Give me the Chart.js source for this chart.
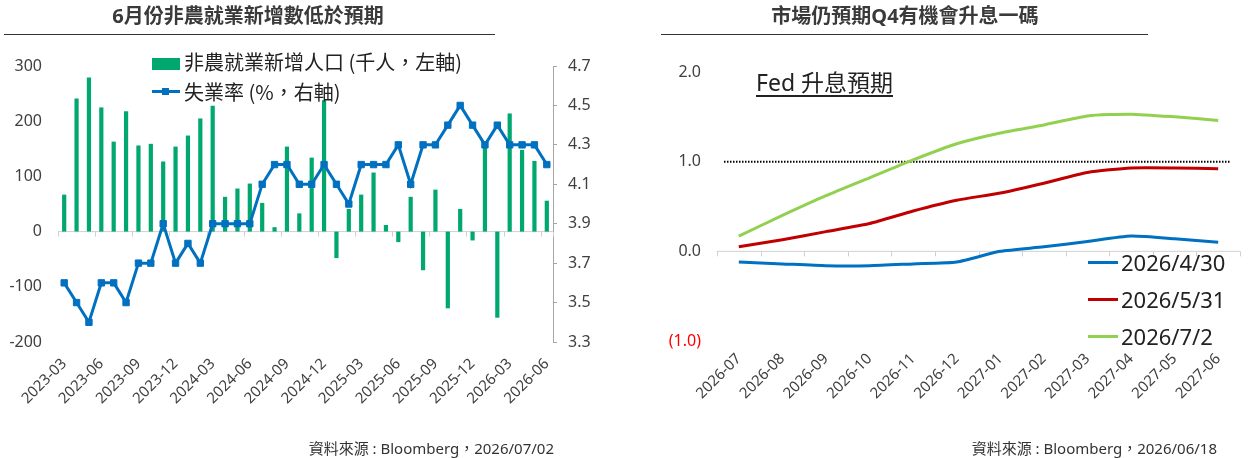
<!DOCTYPE html>
<html lang="zh-Hant-TW">
<head>
<meta charset="utf-8">
<script src="https://cdn.jsdelivr.net/npm/chart.js@4.4.1/dist/chart.umd.min.js"></script>
<style>
  body { margin: 0; background: #fff; }
  #page {
    position: relative; width: 1260px; height: 458px; overflow: hidden;
    font-family: 'Noto Sans', 'Noto Sans CJK TC', sans-serif; color: #262626;
  }
  .box { position: absolute; }
  .title { position: absolute; top: 3px; font-size: 20px; line-height: 26px; text-align: center; color: #3a3a3a; font-weight: bold; }
  .rule { position: absolute; top: 34px; height: 0; border-top: 1.5px solid #333; }
  .lgtext { position: absolute; white-space: nowrap; }
  .cjk { font-family: 'Noto Sans CJK TC', 'Noto Sans', sans-serif; }
  .note { position: absolute; top: 438px; font-size: 15px; line-height: 20px; color: #333; text-align: right; white-space: nowrap; }
  .wrap { position: absolute; top: 0; width: 630px; height: 458px; }
</style>
</head>
<body>
<div id="page">
  <div class="wrap" style="left:0"><canvas id="nfpChart"></canvas></div>
  <div class="wrap" style="left:630px"><canvas id="fedChart"></canvas></div>

  <div class="title" style="left:0;width:496px">6月份非農就業新增數低於預期</div>
  <div class="rule" style="left:4px;width:491px"></div>
  <div class="title" style="left:661px;width:488px">市場仍預期Q4有機會升息一碼</div>
  <div class="rule" style="left:661px;width:487px"></div>

  <!-- left legend -->
  <div class="box" style="left:152px;top:58px;width:28px;height:12px;background:#00A870"></div>
  <div id="lgBar" class="lgtext cjk" style="left:184px;top:50px;font-size:20px;line-height:24px;color:#222"></div>
  <div class="box" style="left:152px;top:90px;width:28px;height:3px;background:#0070C0"></div>
  <div class="box" style="left:162px;top:88px;width:7px;height:7px;background:#0070C0"></div>
  <div id="lgRate" class="lgtext cjk" style="left:184px;top:80px;font-size:20px;line-height:24px;color:#222"></div>

  <!-- right chart label + legend -->
  <div class="lgtext" style="left:756px;top:70px;font-size:23px;line-height:25px;border-bottom:2px solid #222;color:#222">Fed 升息預期</div>
  <div class="box" style="left:1088px;top:261px;width:30px;height:3px;background:#0070C0"></div>
  <div id="lg1" class="lgtext" style="left:1121px;top:248px;font-size:22px;line-height:28px;color:#222"></div>
  <div class="box" style="left:1088px;top:298px;width:30px;height:3px;background:#C00000"></div>
  <div id="lg2" class="lgtext" style="left:1121px;top:285px;font-size:22px;line-height:28px;color:#222"></div>
  <div class="box" style="left:1088px;top:335px;width:30px;height:3px;background:#92D050"></div>
  <div id="lg3" class="lgtext" style="left:1121px;top:322px;font-size:22px;line-height:28px;color:#222"></div>

  <div class="note" style="right:706px">資料來源 : Bloomberg，2026/07/02</div>
  <div class="note" style="right:43px">資料來源 : Bloomberg，2026/06/18</div>
</div>

<script>
// 非農就業 (左圖)
const payrollMonths = [
  "2023-03", "2023-04", "2023-05", "2023-06", "2023-07", "2023-08", "2023-09", "2023-10",
  "2023-11", "2023-12", "2024-01", "2024-02", "2024-03", "2024-04", "2024-05", "2024-06",
  "2024-07", "2024-08", "2024-09", "2024-10", "2024-11", "2024-12", "2025-01", "2025-02",
  "2025-03", "2025-04", "2025-05", "2025-06", "2025-07", "2025-08", "2025-09", "2025-10",
  "2025-11", "2025-12", "2026-01", "2026-02", "2026-03", "2026-04", "2026-05", "2026-06",
];
const payrolls = [
  67, 241, 279, 225, 163, 218, 156, 159, 127, 154,
  174, 205, 228, 63, 78, 87, 52, 8, 154, 33,
  134, 238, -48, 41, 67, 107, 12, -19, 63, -70,
  76, -139, 41, -16, 160, -156, 214, 148, 128, 56,
];
const unemployment = [
  3.6, 3.5, 3.4, 3.6, 3.6, 3.5, 3.7, 3.7, 3.9, 3.7,
  3.8, 3.7, 3.9, 3.9, 3.9, 3.9, 4.1, 4.2, 4.2, 4.1,
  4.1, 4.2, 4.1, 4.0, 4.2, 4.2, 4.2, 4.3, 4.1, 4.3,
  4.3, 4.4, 4.5, 4.4, 4.3, 4.4, 4.3, 4.3, 4.3, 4.2,
];
const payrollLabel = "非農就業新增人口 (千人，左軸)";
const rateLabel = "失業率 (%，右軸)";

// Fed 升息預期 (右圖)
const fedMonths = [
  "2026-07", "2026-08", "2026-09", "2026-10", "2026-11", "2026-12",
  "2027-01", "2027-02", "2027-03", "2027-04", "2027-05", "2027-06",
];
const hikesApr30 = [-0.12, -0.14, -0.16, -0.16, -0.14, -0.12, 0.0, 0.05, 0.11, 0.17, 0.14, 0.10];
const hikesMay31 = [0.05, 0.13, 0.22, 0.31, 0.45, 0.57, 0.65, 0.76, 0.88, 0.93, 0.93, 0.92];
const hikesJul02 = [0.17, 0.40, 0.62, 0.82, 1.02, 1.20, 1.32, 1.41, 1.51, 1.53, 1.50, 1.46];
const fedLabels = ["2026/4/30", "2026/5/31", "2026/7/2"];

Chart.defaults.font.family = "'Noto Sans', 'Noto Sans CJK TC', sans-serif";
Chart.defaults.color = "#404040";
Chart.defaults.animation = false;

// axis line at value 0 with small ticks on category boundaries
const zeroAxis = {
  id: "zeroAxis",
  beforeDatasetsDraw(chart, args, opts) {
    const x = chart.scales.x;
    const y = chart.scales[opts.scaleID];
    const y0 = y.getPixelForValue(0);
    const n = chart.data.labels.length;
    const ctx = chart.ctx;
    ctx.save();
    ctx.strokeStyle = opts.color;
    ctx.lineWidth = 1;
    ctx.beginPath();
    ctx.moveTo(chart.chartArea.left, y0);
    ctx.lineTo(chart.chartArea.right, y0);
    for (let i = 0; i <= n; i += opts.every) {
      const px = Math.round(x.getPixelForValue(i - 0.5)) + 0.5;
      ctx.moveTo(px, y0);
      ctx.lineTo(px, y0 + 5);
    }
    if (n % opts.every !== 0) {
      const px = Math.round(x.getPixelForValue(n - 0.5)) + 0.5;
      ctx.moveTo(px, y0);
      ctx.lineTo(px, y0 + 5);
    }
    ctx.stroke();
    ctx.restore();
  },
};

// dotted reference line
const refLine = {
  id: "refLine",
  beforeDatasetsDraw(chart, args, opts) {
    const y = chart.scales.y.getPixelForValue(opts.value);
    const ctx = chart.ctx;
    ctx.save();
    ctx.strokeStyle = "#000";
    ctx.lineWidth = 2;
    ctx.setLineDash([1.5, 1.5]);
    ctx.beginPath();
    ctx.moveTo(chart.chartArea.left + 7, y);
    ctx.lineTo(chart.chartArea.right - 10, y);
    ctx.stroke();
    ctx.restore();
  },
};

document.addEventListener("DOMContentLoaded", () => {
  document.getElementById("lgBar").textContent = payrollLabel;
  document.getElementById("lgRate").textContent = rateLabel;
  document.getElementById("lg1").textContent = fedLabels[0];
  document.getElementById("lg2").textContent = fedLabels[1];
  document.getElementById("lg3").textContent = fedLabels[2];
  initPayrollChart();
  initFedChart();
});

function initPayrollChart() {
  const ctx = document.getElementById("nfpChart").getContext("2d");
  new Chart(ctx, {
    type: "bar",
    data: {
      labels: payrollMonths,
      datasets: [
        {
          type: "line",
          label: rateLabel,
          data: unemployment,
          yAxisID: "y1",
          borderColor: "#0070C0",
          backgroundColor: "#0070C0",
          borderWidth: 3,
          pointStyle: "rect",
          pointRadius: 4.5,
          pointBorderWidth: 1,
          tension: 0,
          order: 0,
        },
        {
          label: payrollLabel,
          data: payrolls,
          yAxisID: "y",
          backgroundColor: "#00A870",
          barPercentage: 0.34,
          categoryPercentage: 1,
          order: 1,
        },
      ],
    },
    options: {
      responsive: true,
      maintainAspectRatio: false,
      layout: { padding: { top: 66, left: 0, right: 0, bottom: 0 } },
      plugins: {
        legend: { display: false },
        tooltip: { enabled: false },
        zeroAxis: { scaleID: "y", every: 3, color: "#D0D0D0" },
      },
      scales: {
        x: {
          offset: true,
          grid: { display: false, drawTicks: false },
          border: { display: false },
          ticks: {
            autoSkip: false,
            minRotation: 45,
            maxRotation: 45,
            padding: 13,
            font: { size: 15 },
            callback: (v, i) => (i % 3 === 0 ? payrollMonths[i] : ""),
          },
          afterFit: (axis) => { axis.height = 116; },
        },
        y: {
          position: "left",
          min: -200,
          max: 300,
          ticks: { stepSize: 100, padding: 16, font: { size: 16 } },
          grid: { display: false, drawTicks: false },
          border: { display: false },
          afterFit: (axis) => { axis.width = 58; },
        },
        y1: {
          position: "right",
          min: 3.3,
          max: 4.7,
          ticks: { stepSize: 0.2, padding: 11, font: { size: 16 }, callback: (v) => v.toFixed(1) },
          grid: { drawOnChartArea: false, tickLength: 4, color: "#A6A6A6" },
          border: { color: "#A6A6A6" },
          afterFit: (axis) => { axis.width = 77; },
        },
      },
    },
    plugins: [zeroAxis],
  });
}

function initFedChart() {
  const ctx = document.getElementById("fedChart").getContext("2d");
  const line = (label, data, color) => ({
    label: label,
    data: data,
    borderColor: color,
    backgroundColor: color,
    borderWidth: 3,
    pointRadius: 0,
    tension: 0.2,
  });
  new Chart(ctx, {
    type: "line",
    data: {
      labels: fedMonths,
      datasets: [
        line(fedLabels[0], hikesApr30, "#0070C0"),
        line(fedLabels[1], hikesMay31, "#C00000"),
        line(fedLabels[2], hikesJul02, "#92D050"),
      ],
    },
    options: {
      responsive: true,
      maintainAspectRatio: false,
      layout: { padding: { top: 72, left: 0, right: 20, bottom: 0 } },
      plugins: {
        legend: { display: false },
        tooltip: { enabled: false },
        zeroAxis: { scaleID: "y", every: 1, color: "#D0D0D0" },
        refLine: { value: 1 },
      },
      scales: {
        x: {
          offset: true,
          grid: { display: false, drawTicks: false },
          border: { display: false },
          ticks: { autoSkip: false, minRotation: 45, maxRotation: 45, padding: 9, font: { size: 15 } },
          afterFit: (axis) => { axis.height = 117; },
        },
        y: {
          min: -1,
          max: 2,
          ticks: {
            stepSize: 1,
            padding: 16,
            font: { size: 16 },
            color: (c) => (c.tick.value < 0 ? "#FF0000" : "#404040"),
            callback: (v) => (v < 0 ? "(" + Math.abs(v).toFixed(1) + ")" : v.toFixed(1)),
          },
          grid: { display: false, drawTicks: false },
          border: { display: false },
          afterFit: (axis) => { axis.width = 87; },
        },
      },
    },
    plugins: [zeroAxis, refLine],
  });
}
</script>
</body>
</html>
